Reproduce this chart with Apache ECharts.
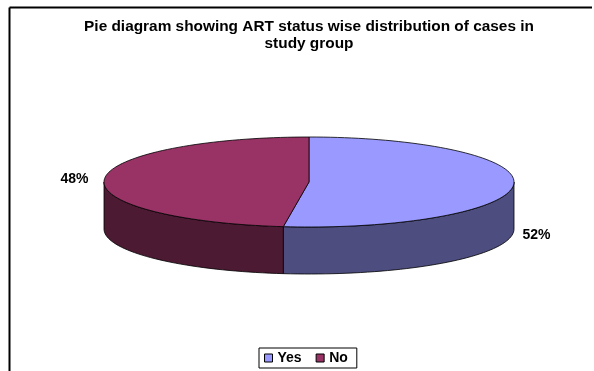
<!DOCTYPE html>
<html><head><meta charset="utf-8">
<script src="https://cdn.jsdelivr.net/npm/echarts@6/dist/echarts.min.js"></script>
<style>html,body{margin:0;padding:0;background:#fff}#c{width:594px;height:371px}</style>
</head><body><div id="c"></div>
<script>
var categories = ['Yes', 'No'];
var values = [52, 48];
var labels = ['52%', '48%'];

var topColors = ['#9999FF', '#993366'];
var sideColors = ['#4D4D80', '#4D1A33'];

var total = values.reduce(function (a, b) { return a + b; }, 0);
var CX = 309, CY = 182, RX = 205, RY = 45, DEPTH = 47;
var FONT = '"Liberation Sans", Arial, sans-serif';

function pt(deg, dy) {
  var r = deg * Math.PI / 180;
  return [CX + RX * Math.cos(r), CY - RY * Math.sin(r) + (dy || 0)];
}
function arc(a0, a1, dy) {
  var pts = [], n = Math.max(2, Math.ceil(Math.abs(a1 - a0) / 2));
  for (var i = 0; i <= n; i++) pts.push(pt(a0 + (a1 - a0) * i / n, dy));
  return pts;
}

function makeRender(idx) {
  return function (params, api) {
    var before = 0;
    for (var i = 0; i < idx; i++) before += values[i];
    var v = api.value(0);
    var start = 90 - before / total * 360;
    var end = start - v / total * 360;
    var children = [];
    var s0 = Math.min(start, 0), s1 = Math.max(end, -180);
    if (s0 > s1) {
      var topArc = arc(s0, s1, 0);
      var botArc = arc(s1, s0, DEPTH);
      children.push({
        type: 'polygon', z2: 1,
        shape: { points: topArc.concat(botArc) },
        style: { fill: sideColors[idx], stroke: '#000', lineWidth: 0.8 }
      });
    }
    var pts = [[CX, CY]].concat(arc(start, end, 0));
    children.push({
      type: 'polygon', z2: 2,
      shape: { points: pts },
      style: { fill: topColors[idx], stroke: '#000', lineWidth: 0.8 }
    });
    var mid = (start + end) / 2, mr = mid * Math.PI / 180;
    var right = Math.cos(mr) > 0;
    var lx = CX + (RX + (right ? 23 : 30)) * Math.cos(mr);
    var ly = CY - RY * Math.sin(mr) + (right ? DEPTH + 3 : 0);
    children.push({
      type: 'text', z2: 3,
      style: { text: labels[idx], x: lx, y: ly, textAlign: 'center', textVerticalAlign: 'middle',
        font: 'bold 14px ' + FONT, fill: '#000' }
    });
    return { type: 'group', children: children };
  };
}

var series = categories.map(function (name, idx) {
  return {
    type: 'custom', name: name, coordinateSystem: 'none',
    itemStyle: { color: topColors[idx] },
    data: [[values[idx]]],
    renderItem: makeRender(idx),
    silent: true
  };
});

var chart = echarts.init(document.getElementById('c'), null, { renderer: 'canvas' });
chart.setOption({
  animation: false,
  backgroundColor: '#fff',
  title: {
    text: 'Pie diagram showing ART status wise distribution of cases in\nstudy group',
    left: 309, top: 18, textAlign: 'center', padding: 0,
    textStyle: { fontFamily: FONT, fontWeight: 'bold', fontSize: 15.4, lineHeight: 17, color: '#000' }
  },
  legend: {
    data: categories,
    left: 259, top: 348,
    orient: 'horizontal',
    icon: 'rect', itemWidth: 8, itemHeight: 8, itemGap: 14,
    borderColor: '#000', borderWidth: 1, padding: [3, 9, 3, 5],
    itemStyle: { borderColor: '#000', borderWidth: 1 },
    textStyle: { fontFamily: FONT, fontWeight: 'bold', fontSize: 14, color: '#000', padding: [0, 0, 0, 0] },
    selectedMode: false
  },
  graphic: [
    { type: 'line', shape: { x1: 9.5, y1: 7.5, x2: 592, y2: 7.5 }, style: { stroke: '#000', lineWidth: 2 } },
    { type: 'line', shape: { x1: 9.5, y1: 7.5, x2: 9.5, y2: 371 }, style: { stroke: '#000', lineWidth: 2 } }
  ],
  series: series
});
</script></body></html>
